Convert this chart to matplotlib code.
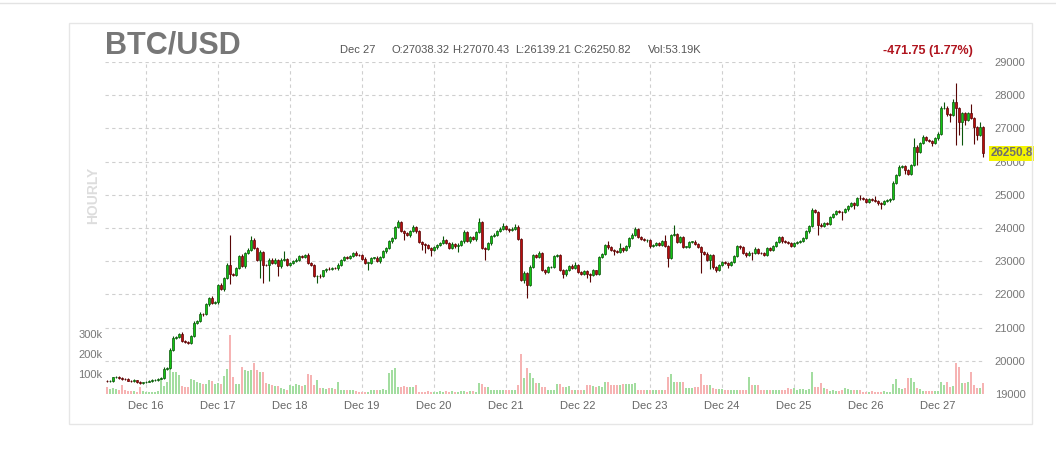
import numpy as np
import pandas as pd
import matplotlib
matplotlib.use("Agg")
import matplotlib.pyplot as plt
import matplotlib.dates as mdates
import matplotlib.transforms as mtransforms
from matplotlib.patches import Rectangle
from matplotlib.lines import Line2D

plt.rcParams['font.family'] = ['Liberation Sans', 'DejaVu Sans']

# hourly BTC/USD candles, Dec 15 11:00 -> Dec 27 15:00
START = "2017-12-15 11:00"
first_open = 19400
closes = [
    19380, 19390, 19500, 19510, 19480, 19450, 19440, 19400, 19380, 19410, 19370, 19320, 19350,
    # Dec 16
    19370, 19400, 19420, 19430, 19460, 19470, 19760, 19790, 20330, 20700, 20720, 20820,
    20600, 20570, 20540, 20750, 21150, 21200, 21420, 21400, 21700, 21900, 21750, 21760,
    # Dec 17
    22270, 22150, 22500, 22900, 22600, 22580, 22800, 23150, 22850, 23250, 23350, 23650,
    23400, 23050, 23280, 22900, 22880, 23050, 22950, 23050, 22850, 23050, 23070, 22900,
    # Dec 18
    22950, 23000, 23050, 23150, 23130, 23200, 22950, 22900, 22550, 22560, 22540, 22720,
    22780, 22760, 22800, 22790, 22900, 23050, 23130, 23100, 23150, 23260, 23200, 23180,
    # Dec 19
    23080, 22950, 22960, 23100, 23110, 23000, 23140, 23300, 23400, 23600, 23700, 24030,
    24170, 23900, 23850, 23780, 23900, 24020, 23900, 23580, 23520, 23480, 23400, 23350,
    # Dec 20
    23420, 23480, 23560, 23640, 23550, 23400, 23530, 23450, 23500, 23600, 23880, 23600,
    23720, 23660, 23880, 24180, 23400, 23380, 23540, 23750, 23800, 23920, 23980, 24050,
    # Dec 21
    23960, 23930, 23980, 24040, 23670, 22430, 22650, 22290, 22840, 23190, 23130, 23250,
    22730, 22680, 22820, 22830, 23160, 23190, 22730, 22600, 22740, 22870, 22800, 22880,
    # Dec 22
    22670, 22620, 22700, 22610, 22580, 22720, 22620, 23130, 23230, 23490, 23420, 23340,
    23300, 23280, 23400, 23330, 23450, 23700, 23800, 23970, 23730, 23670, 23630, 23650,
    # Dec 23
    23470, 23490, 23550, 23500, 23600, 23450, 23100, 23790, 23820, 23580, 23730, 23430,
    23440, 23580, 23590, 23530, 23420, 23280, 23230, 23040, 23180, 22820, 22730, 22880,
    # Dec 24
    22970, 22950, 22880, 22980, 23150, 23460, 23420, 23250, 23180, 23260, 23240, 23380,
    23250, 23240, 23200, 23400, 23350, 23460, 23580, 23720, 23600, 23580, 23550, 23460,
    # Dec 25
    23560, 23580, 23610, 23700, 23900, 24050, 24540, 24480, 24100, 24060, 24150, 24120,
    24330, 24420, 24500, 24480, 24470, 24560, 24650, 24750, 24700, 24900, 24890, 24860,
    # Dec 26
    24780, 24860, 24840, 24800, 24740, 24720, 24800, 24830, 24880, 25360, 25600, 25840,
    25860, 25740, 25640, 25900, 26450, 26300, 26550, 26740, 26650, 26610, 26560, 26700,
    # Dec 27
    26840, 27610, 27620, 27420, 27400, 27800, 27600, 27200, 27450, 27250, 27450, 27300,
    27050, 26800, 27038.32, 26250.82,
]
# wick lengths above / below the body (USD)
upper_wick = [
    20, 30, 20, 30, 20, 30, 20, 30, 20, 30, 20, 30, 20,
    20, 30, 20, 30, 20, 30, 40, 30, 50, 40, 30, 30, 40, 30, 30, 40, 50, 30, 40, 30, 40, 30, 60, 30,
    40, 60, 30, 40, 900, 40, 30, 40, 60, 30, 40, 100, 40, 30, 50, 40, 30, 60, 40, 40, 30, 40, 230, 40,
    30, 30, 40, 30, 40, 30, 40, 30, 30, 30, 40, 30, 30, 40, 30, 30, 40, 30, 40, 30, 30, 30, 40, 30,
    30, 40, 30, 40, 30, 40, 30, 40, 30, 30, 40, 30, 80, 40, 30, 40, 30, 80, 40, 30, 40, 30, 40, 30,
    30, 40, 30, 110, 40, 30, 40, 30, 40, 30, 60, 40, 30, 40, 30, 120, 40, 30, 40, 30, 40, 30, 40, 100,
    40, 30, 40, 80, 40, 30, 40, 30, 40, 30, 40, 60, 30, 30, 40, 30, 40, 30, 40, 30, 40, 30, 40, 110,
    30, 40, 30, 40, 30, 40, 30, 40, 30, 40, 110, 30, 40, 30, 150, 30, 40, 30, 40, 60, 40, 30, 40, 30,
    30, 40, 30, 40, 30, 200, 40, 30, 270, 40, 30, 40, 30, 40, 30, 40, 30, 40, 30, 40, 30, 40, 30, 40,
    30, 40, 30, 40, 30, 40, 30, 40, 30, 40, 30, 40, 30, 40, 30, 40, 30, 40, 30, 40, 30, 40, 30, 40,
    30, 40, 30, 40, 30, 40, 60, 40, 30, 40, 30, 40, 30, 40, 30, 40, 30, 40, 30, 40, 30, 40, 100, 40,
    30, 40, 30, 120, 30, 40, 30, 40, 30, 50, 40, 60, 40, 30, 40, 30, 250, 60, 40, 50, 40, 30, 40, 30,
    40, 60, 180, 40, 30, 80, 570, 40, 30, 40, 50, 300, 40, 30, 160, 32.11,
]
lower_wick = [
    30, 20, 30, 20, 30, 20, 30, 20, 30, 20, 30, 20, 30,
    30, 20, 30, 20, 30, 20, 30, 40, 30, 40, 30, 40, 30, 40, 30, 40, 30, 40, 30, 40, 30, 40, 30, 40,
    40, 30, 40, 30, 300, 40, 30, 40, 30, 40, 30, 40, 30, 40, 550, 550, 30, 480, 40, 40, 300, 40, 30, 40,
    30, 40, 30, 40, 30, 40, 30, 40, 30, 200, 40, 30, 40, 30, 40, 30, 40, 30, 40, 30, 40, 30, 40, 30,
    40, 30, 200, 30, 40, 30, 40, 30, 40, 30, 40, 30, 40, 30, 200, 30, 40, 30, 40, 30, 170, 230, 40, 200,
    30, 40, 30, 40, 30, 40, 30, 40, 180, 30, 40, 30, 40, 30, 40, 30, 40, 330, 30, 40, 30, 40, 30, 40,
    30, 40, 30, 40, 30, 40, 80, 390, 40, 30, 40, 30, 40, 80, 40, 30, 40, 30, 40, 120, 40, 30, 40, 30,
    40, 30, 40, 110, 210, 30, 40, 30, 40, 30, 40, 30, 100, 40, 30, 40, 30, 40, 30, 40, 30, 40, 30, 40,
    70, 30, 40, 30, 40, 30, 280, 40, 30, 40, 30, 40, 30, 40, 30, 40, 30, 640, 40, 30, 260, 40, 50, 40,
    30, 40, 80, 30, 40, 30, 40, 30, 40, 30, 190, 30, 40, 30, 40, 30, 40, 30, 40, 30, 40, 30, 40, 30,
    30, 40, 30, 40, 30, 40, 30, 40, 320, 40, 30, 40, 30, 40, 30, 40, 220, 30, 40, 30, 140, 30, 40, 30,
    40, 30, 40, 30, 40, 160, 40, 30, 40, 30, 40, 30, 40, 120, 40, 30, 40, 400, 40, 30, 40, 30, 100, 40,
    40, 30, 40, 60, 210, 40, 1100, 400, 700, 150, 40, 30, 510, 150, 40, 111.61,
]
# hourly volume, thousands
volume_k = [
    37, 25, 28, 25, 22, 45, 18, 15, 14, 16, 12, 37, 14,
    10, 8, 9, 12, 14, 78, 40, 60, 150, 112, 110, 95, 40, 37, 35, 73, 70, 62, 55, 50, 48, 70, 65, 50,
    55, 48, 90, 123, 295, 87, 50, 48, 137, 120, 115, 120, 153, 120, 112, 110, 55, 50, 45, 42, 40, 28, 25, 20,
    45, 42, 48, 45, 40, 45, 100, 95, 45, 70, 30, 28, 25, 30, 28, 27, 62, 20, 18, 22, 20, 18, 15, 12,
    12, 10, 12, 20, 18, 22, 20, 25, 22, 103, 120, 128, 37, 35, 38, 36, 37, 35, 45, 12, 10, 12, 13, 11,
    12, 10, 14, 12, 15, 11, 13, 12, 10, 14, 15, 12, 13, 14, 12, 53, 50, 37, 35, 20, 22, 18, 20, 19,
    20, 22, 18, 20, 45, 200, 78, 128, 103, 80, 53, 55, 37, 35, 22, 20, 18, 50, 48, 37, 35, 38, 22, 20,
    18, 20, 22, 45, 47, 42, 37, 38, 36, 62, 60, 45, 43, 47, 44, 50, 52, 48, 50, 53, 20, 18, 22, 20,
    18, 20, 22, 19, 21, 20, 87, 100, 62, 60, 62, 58, 28, 30, 28, 37, 36, 100, 45, 43, 45, 28, 27, 25,
    26, 20, 18, 22, 20, 19, 21, 20, 22, 83, 45, 44, 43, 20, 18, 22, 20, 19, 21, 20, 18, 22, 28, 27,
    28, 22, 24, 23, 22, 24, 112, 37, 36, 53, 28, 27, 17, 18, 16, 17, 18, 28, 27, 20, 19, 21, 18, 12,
    12, 11, 13, 12, 10, 12, 13, 11, 12, 50, 73, 28, 27, 29, 78, 80, 62, 28, 27, 15, 14, 16, 15, 14,
    15, 62, 45, 62, 37, 38, 153, 137, 53, 55, 62, 112, 45, 28, 28, 53,
]
day_ticks = pd.date_range("2017-12-16", "2017-12-27", freq="D")
price_ticks = [19000, 20000, 21000, 22000, 23000, 24000, 25000, 26000, 27000, 28000, 29000]
vol_ticks = [100, 200, 300]
vol_labels = ['100k', '200k', '300k']

header_date = 'Dec 27'
header_ohlc = ['O:27038.32', 'H:27070.43', 'L:26139.21', 'C:26250.82']
header_vol = 'Vol:53.19K'
change_txt = '-471.75 (1.77%)'
last_txt = '26250.8'

GREEN = '#12c412'; GREEN_EDGE = '#0b560b'
RED = '#b80c0c'; RED_EDGE = '#580505'
VGREEN = '#a3dda0'; VRED = '#f6b3b3'
GRID = '#cfcfcf'

n = len(closes)
opens = np.array([first_open] + closes[:-1], dtype=float)
closes_a = np.array(closes, dtype=float)
up = closes_a >= opens
highs = np.maximum(opens, closes_a) + np.array(upper_wick)
lows = np.minimum(opens, closes_a) - np.array(lower_wick)
times = pd.date_range(START, periods=n, freq="h")
x = mdates.date2num(times)
hour = 1 / 24

W, H = 1056, 474
fig = plt.figure(figsize=(W / 100, H / 100), dpi=100, facecolor='white')
pos = [105 / W, 1 - 394 / H, 880 / W, 332 / H]
ax_v = fig.add_axes(pos)
ax = fig.add_axes(pos, sharex=ax_v)
ax.patch.set_visible(False)

# volume (behind)
ax_v.bar(x, volume_k, width=0.98 * hour, color=np.where(up, VGREEN, VRED), linewidth=0, zorder=2)
ax_v.set_ylim(0, 1660)
ax_v.set_yticks(vol_ticks)
ax_v.set_yticklabels(vol_labels)
ax_v.tick_params(axis='y', length=0, pad=2, labelsize=8, labelcolor='#777777')
ax_v.tick_params(axis='x', length=0, labelbottom=False)

# dashed grid, drawn under the volume bars
blend = mtransforms.blended_transform_factory(ax_v.transAxes, ax.transData)
for p in price_ticks[1:]:
    ax_v.add_line(Line2D([0, 1], [p, p], transform=blend, color=GRID, lw=0.8,
                         ls=(0, (3, 3)), zorder=1))
for d in day_ticks:
    ax_v.axvline(mdates.date2num(d), color=GRID, lw=0.8, ls=(0, (3, 3)), zorder=1)

# candles
ax.vlines(x, lows, highs, colors=np.where(up, GREEN_EDGE, RED_EDGE), lw=0.8, zorder=3)
body_h = np.maximum(np.abs(closes_a - opens), 16)
ax.bar(x, body_h, width=0.82 * hour, bottom=np.minimum(opens, closes_a),
       color=np.where(up, GREEN, RED), edgecolor=np.where(up, GREEN_EDGE, RED_EDGE),
       linewidth=0.5, zorder=4)

ax.set_xlim(x[0] - 0.67 * hour, x[-1] + 0.67 * hour)
ax.set_ylim(19000, 29000)
ax.yaxis.tick_right()
ax.set_yticks(price_ticks)
ax.tick_params(axis='y', length=0, pad=7, labelsize=8, labelcolor='#777777')
ax.set_xticks(mdates.date2num(day_ticks))
ax.xaxis.set_major_formatter(mdates.DateFormatter('%b %d'))
ax.tick_params(axis='x', length=0, pad=5, labelsize=8, labelcolor='#666666')
for a in (ax, ax_v):
    for s in a.spines.values():
        s.set_visible(False)

# last price tag
tag_tr = mtransforms.blended_transform_factory(ax.transAxes, ax.transData)
ax.text(1.006, closes_a[-1], last_txt, transform=tag_tr, ha='left', va='center',
        fontsize=8.5, fontweight='bold', color='#6e6e6e', clip_on=False, zorder=10,
        bbox=dict(boxstyle='square,pad=0.12', facecolor='#f4f400', edgecolor='none'))

# header texts
def fx(px): return px / W
def fy(py): return 1 - py / H

fig.text(fx(105), fy(54), 'BTC/USD', fontsize=22, fontweight='bold', color='#777777', va='baseline')
fig.text(fx(340), fy(53), header_date, fontsize=8, color='#555555', va='baseline')
for px, s in zip([391, 452, 515, 573], header_ohlc):
    fig.text(fx(px), fy(53), s, fontsize=8, color='#555555', va='baseline')
fig.text(fx(648), fy(53), header_vol, fontsize=8, color='#555555', va='baseline')
fig.text(fx(973), fy(54), change_txt, fontsize=9, fontweight='bold', color='#b0141e',
         ha='right', va='baseline')
fig.text(fx(93), fy(195), 'HOURLY', fontsize=10, fontweight='bold', color='#dddddd',
         rotation=90, ha='center', va='center')

# frame
fig.add_artist(Rectangle((fx(69), fy(424)), (1032 - 69) / W, (424 - 23) / H,
                         transform=fig.transFigure, fill=False, edgecolor='#e6e6e6', lw=1))
fig.add_artist(Line2D([0, 1], [fy(3), fy(3)], transform=fig.transFigure, color='#e3e3e3', lw=1))

fig.savefig('out.png', dpi=100, facecolor='white')
